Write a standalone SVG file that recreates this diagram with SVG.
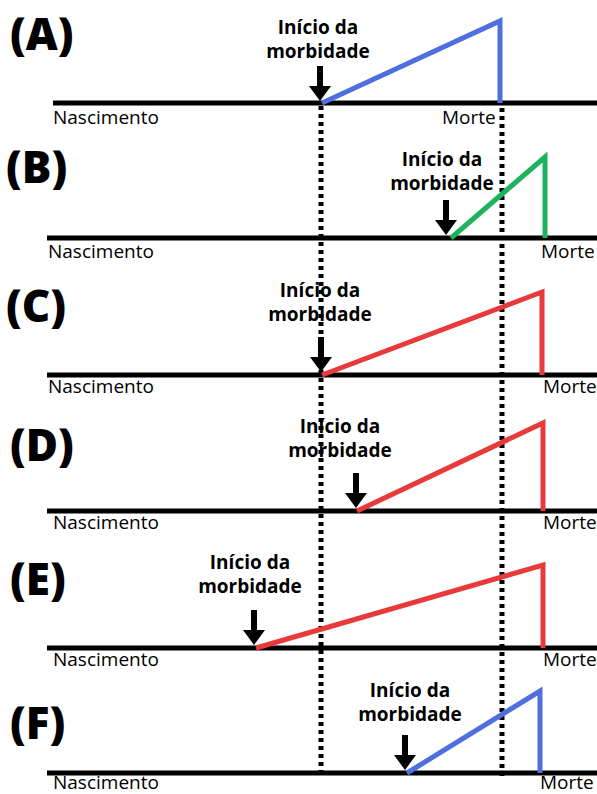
<svg xmlns="http://www.w3.org/2000/svg" width="597" height="794" viewBox="0 0 597 794">
<defs>
<style>
.base{stroke:#000;stroke-width:5;fill:none}
.dot{stroke:#000;stroke-width:5;stroke-dasharray:4 4;fill:none}
.tl{font-family:"Open Sans","Noto Sans",sans-serif;font-weight:800;font-size:44px;fill:#000}
.lb{font-family:"Open Sans","Noto Sans",sans-serif;font-weight:bold;font-size:19px;fill:#000;text-anchor:middle}
.ax{font-family:"Open Sans","Noto Sans",sans-serif;font-size:19px;fill:#000}
.blue{stroke:#4f6fe0;stroke-width:5;fill:none}
.green{stroke:#1db35c;stroke-width:5;fill:none}
.red{stroke:#e8393b;stroke-width:5;fill:none}
</style>
<g id="arr"><path d="M-3,-35 H3 V-15 H11 L0,0 L-11,-15 H-3 Z" fill="#000"/></g>
</defs>
<rect width="597" height="794" fill="#fff"/>
<g id="connectors">
<line class="dot" x1="321" y1="106" x2="321" y2="776"/>
<line class="dot" x1="502" y1="108" x2="502" y2="778"/>
</g>
<g id="A">
<line class="base" x1="53" y1="103" x2="597" y2="103"/>
<text class="tl" x="10" y="50">(A)</text>
<text class="lb" x="318" y="34">Início da</text>
<text class="lb" x="318" y="58">morbidade</text>
<use href="#arr" x="320" y="101"/>
<polyline class="blue" points="322,103 500,21 500,103"/>
<text class="ax" x="53" y="124">Nascimento</text>
<text class="ax" x="442" y="124">Morte</text>
</g>
<g id="B">
<line class="base" x1="47" y1="238" x2="597" y2="238"/>
<text class="tl" x="6" y="183">(B)</text>
<text class="lb" x="442" y="166">Início da</text>
<text class="lb" x="442" y="190">morbidade</text>
<use href="#arr" x="446" y="235"/>
<polyline class="green" points="451,238 545,157 545,238"/>
<text class="ax" x="48" y="258">Nascimento</text>
<text class="ax" x="541" y="258">Morte</text>
</g>
<g id="C">
<line class="base" x1="47" y1="375" x2="597" y2="375"/>
<text class="tl" x="6" y="322">(C)</text>
<text class="lb" x="320" y="297">Início da</text>
<text class="lb" x="320" y="321">morbidade</text>
<use href="#arr" x="321" y="372"/>
<polyline class="red" points="322,375 542,292 542,375"/>
<text class="ax" x="48" y="393">Nascimento</text>
<text class="ax" x="543" y="393">Morte</text>
</g>
<g id="D">
<line class="base" x1="47" y1="511" x2="597" y2="511"/>
<text class="tl" x="10" y="461">(D)</text>
<text class="lb" x="340" y="433">Início da</text>
<text class="lb" x="340" y="457">morbidade</text>
<use href="#arr" x="356" y="508"/>
<polyline class="red" points="357,511 543,423 543,511"/>
<text class="ax" x="53" y="529">Nascimento</text>
<text class="ax" x="543" y="529">Morte</text>
</g>
<g id="E">
<line class="base" x1="47" y1="648" x2="597" y2="648"/>
<text class="tl" x="10" y="595">(E)</text>
<text class="lb" x="250" y="569">Início da</text>
<text class="lb" x="250" y="593">morbidade</text>
<use href="#arr" x="254" y="645"/>
<polyline class="red" points="256,648 543,565 543,648"/>
<text class="ax" x="53" y="666">Nascimento</text>
<text class="ax" x="543" y="666">Morte</text>
</g>
<g id="F">
<line class="base" x1="47" y1="773" x2="597" y2="773"/>
<text class="tl" x="10" y="739">(F)</text>
<text class="lb" x="410" y="697">Início da</text>
<text class="lb" x="410" y="721">morbidade</text>
<use href="#arr" x="405" y="770"/>
<polyline class="blue" points="407,773 540,691 540,773"/>
<text class="ax" x="53" y="789">Nascimento</text>
<text class="ax" x="540" y="789">Morte</text>
</g>
</svg>
